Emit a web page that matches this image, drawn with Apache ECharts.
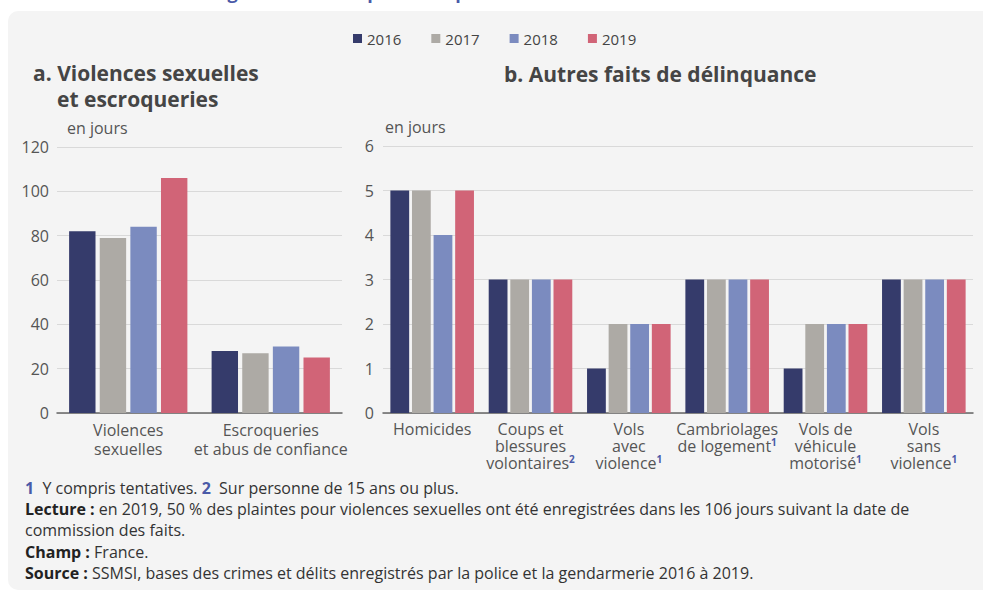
<!DOCTYPE html>
<html>
<head>
<meta charset="utf-8">
<script src="https://cdn.jsdelivr.net/npm/echarts@6/dist/echarts.min.js"></script>
<style>
  html, body { margin: 0; padding: 0; background: #fff; }
  #wrap { position: relative; width: 983px; height: 593px; overflow: hidden; }
  #panel { position: absolute; left: 8px; top: 11px; width: 990px; height: 579px; background: #f4f4f4; border-radius: 10px; }
  #chart { position: absolute; left: 0; top: 0; width: 983px; height: 593px; }
  #notes { position: absolute; left: 25px; top: 478px; font-family: "Open Sans", sans-serif; font-size: 16px; line-height: 21.2px; color: #333; }
  #notes b { color: #222; }
  #notes .n { color: #4a5aa8; font-weight: bold; }
</style>
</head>
<body>
<div id="wrap">
  <div id="panel"></div>
  <div id="chart"></div>
  <div id="notes">
    <span class="n">1</span>&nbsp; Y compris tentatives. <span class="n">2</span>&nbsp; Sur personne de 15 ans ou plus.<br>
    <b>Lecture :</b> en 2019, 50 % des plaintes pour violences sexuelles ont été enregistrées dans les 106 jours suivant la date de<br>
    commission des faits.<br>
    <b>Champ :</b> France.<br>
    <b>Source :</b> SSMSI, bases des crimes et délits enregistrés par la police et la gendarmerie 2016 à 2019.
  </div>
</div>
<script>
// years / colours
const years = ['2016', '2017', '2018', '2019'];
const colors = ['#353b6b', '#adaaa5', '#7b8bbf', '#d16477'];

// panel a
const catA = ['Violences\nsexuelles', 'Escroqueries\net abus de confiance'];
const valuesA = {
  '2016': [82, 28],
  '2017': [79, 27],
  '2018': [84, 30],
  '2019': [106, 25]
};
const ticksA = [0, 20, 40, 60, 80, 100, 120];

// panel b (s = footnote number)
const catB = ['Homicides', 'Coups et\nblessures\nvolontaires{s|2}', 'Vols\navec\nviolence{s|1}',
  'Cambriolages\nde logement{s|1}', 'Vols de\nvéhicule\nmotorisé{s|1}', 'Vols\nsans\nviolence{s|1}'];
const valuesB = {
  '2016': [5, 3, 1, 3, 1, 3],
  '2017': [5, 3, 2, 3, 2, 3],
  '2018': [4, 3, 2, 3, 2, 3],
  '2019': [5, 3, 2, 3, 2, 3]
};
const ticksB = [0, 1, 2, 3, 4, 5, 6];

const font = '"Open Sans", sans-serif';
const chart = echarts.init(document.getElementById('chart'), null, { renderer: 'svg' });

const yAxisBase = (idx, ticks, margin) => ({
  type: 'value',
  gridIndex: idx,
  min: ticks[0],
  max: ticks[ticks.length - 1],
  interval: ticks[1] - ticks[0],
  axisLine: { show: false },
  axisTick: { show: false },
  axisLabel: { color: '#555', fontSize: 16, fontFamily: font, margin: margin },
  splitLine: { lineStyle: { color: '#d9d9d9', width: 1 } }
});

const xAxisBase = (idx, cats, lh) => ({
  type: 'category',
  gridIndex: idx,
  data: cats,
  axisTick: { show: false },
  axisLine: { lineStyle: { color: '#666', width: 1.5 } },
  axisLabel: {
    color: '#555', fontSize: 16, fontFamily: font, lineHeight: lh, margin: 7, interval: 0,
    rich: { s: { fontSize: 10, fontWeight: 'bold', color: '#4a5aa8', verticalAlign: 'top', lineHeight: 10 } }
  }
});

const series = [];
years.forEach((y, i) => {
  series.push({
    name: y, type: 'bar', xAxisIndex: 0, yAxisIndex: 0, data: valuesA[y],
    itemStyle: { color: colors[i] }, barGap: '16%', barCategoryGap: '17%'
  });
});
years.forEach((y, i) => {
  series.push({
    name: y, type: 'bar', xAxisIndex: 1, yAxisIndex: 1, data: valuesB[y],
    itemStyle: { color: colors[i] }, barGap: '15%', barCategoryGap: '15%'
  });
});

const option = {
  animation: false,
  backgroundColor: 'transparent',
  legend: {
    data: years,
    top: 26,
    left: 348,
    icon: 'rect',
    itemWidth: 9,
    itemHeight: 9,
    itemGap: 30,
    textStyle: { color: '#444', fontSize: 15, fontFamily: font }
  },
  grid: [
    { left: 57, right: 641, top: 147, bottom: 180 },
    { left: 383, right: 10, top: 146, bottom: 180 }
  ],
  xAxis: [xAxisBase(0, catA, 19), xAxisBase(1, catB, 17)],
  yAxis: [yAxisBase(0, ticksA, 8), yAxisBase(1, ticksB, 9)],
  series: series,
  graphic: [
    { type: 'text', left: 27, top: -17, style: { text: "2. Délai médian d'enregistrement des plaintes après la commission des faits", fill: '#4a5aa8', font: 'bold 18px ' + font } },
    { type: 'text', left: 33, top: 62, style: { text: 'a. Violences sexuelles', fill: '#454545', font: 'bold 21px ' + font } },
    { type: 'text', left: 57, top: 88, style: { text: 'et escroqueries', fill: '#454545', font: 'bold 21px ' + font } },
    { type: 'text', left: 504, top: 63, style: { text: 'b. Autres faits de délinquance', fill: '#454545', font: 'bold 21px ' + font } },
    { type: 'text', left: 67, top: 120, style: { text: 'en jours', fill: '#555', font: '16px ' + font } },
    { type: 'text', left: 385, top: 119, style: { text: 'en jours', fill: '#555', font: '16px ' + font } }
  ]
};
chart.setOption(option);
</script>
</body>
</html>
